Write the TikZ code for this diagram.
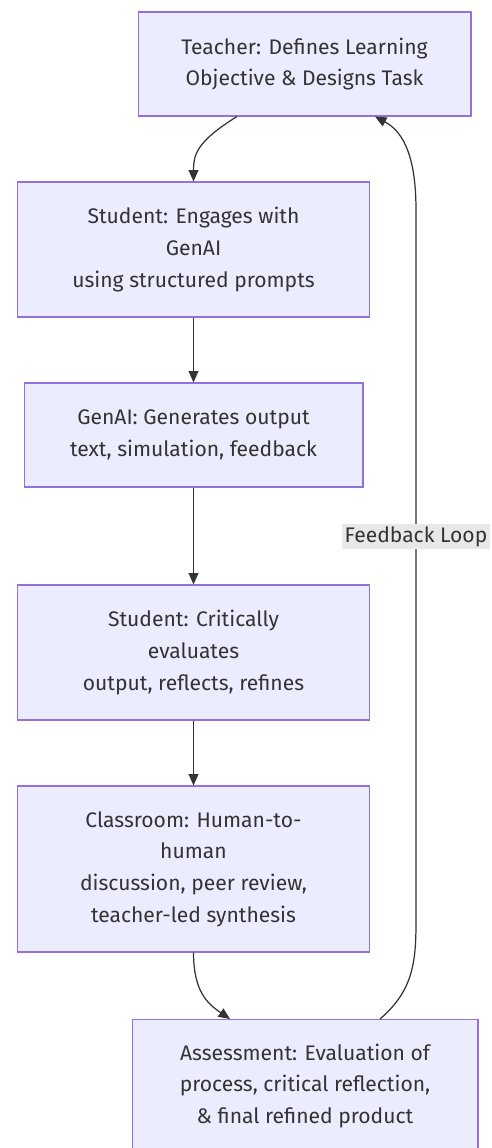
\documentclass[tikz,border=0pt]{standalone}
\usepackage{fontspec}
\setmainfont{Fira Sans}
\usepackage{tikz}
\usetikzlibrary{arrows.meta,calc}
\definecolor{boxfill}{HTML}{ECECFF}
\definecolor{boxline}{HTML}{9370DB}
\definecolor{ink}{HTML}{333333}
\definecolor{labelbg}{HTML}{E8E8E8}

\begin{document}
\begin{tikzpicture}[x=0.02cm, y=-0.02cm,
  font=\fontsize{12}{18}\selectfont, text=ink,
  box/.style={draw=boxline, fill=boxfill, line width=0.6pt, align=center, inner sep=0pt},
  flow/.style={draw=ink, line width=0.7pt, -{Triangle[length=6.5pt,width=5.6pt]}},
  looplabel/.style={fill=labelbg, inner sep=1.5pt, text=ink}]
\useasboundingbox (0,0) rectangle (491,1148);
% flow of the lesson, top to bottom
\node[box, minimum width=6.66cm, minimum height=2.08cm] (teacher) at (304.5,64) {Teacher: Defines Learning\\Objective \& Designs Task};
\node[box, minimum width=7.04cm, minimum height=2.70cm] (engage) at (193.5,249.5) {Student: Engages with\\GenAI\\using structured prompts};
\node[box, minimum width=6.78cm, minimum height=2.08cm] (genai) at (193.5,435) {GenAI: Generates output\\text, simulation, feedback};
\node[box, minimum width=7.04cm, minimum height=2.70cm] (evaluate) at (193.5,652.5) {Student: Critically\\evaluates\\output, reflects, refines};
\node[box, minimum width=7.04cm, minimum height=3.32cm] (classroom) at (193.5,869) {Classroom: Human-to-\\human\\discussion, peer review,\\teacher-led synthesis};
\node[box, minimum width=6.92cm, minimum height=2.66cm] (assess) at (305,1086) {Assessment: Evaluation of\\process, critical reflection,\\\& final refined product};

\draw[flow] ($(teacher.south)+(-67.5,0)$) .. controls (196,142) and (193.5,155) .. (engage.north);
\draw[flow] (engage) -- (genai);
\draw[flow] (genai) -- (evaluate);
\draw[flow] (evaluate) -- (classroom);
\draw[flow] (classroom.south) .. controls (193.5,992) and (208,1004) .. ($(assess.north)+(-75,0)$);

% feedback back to the teacher
\draw[flow] ($(assess.north)+(75,0)$) .. controls (414,990) and (416,960) .. (416,920)
  -- node[looplabel, pos=0.54] (fbl) {Feedback Loop} (416,210)
  .. controls (416,150) and (400,130) .. ($(teacher.south)+(70.5,0)$);
\end{tikzpicture}
\end{document}
